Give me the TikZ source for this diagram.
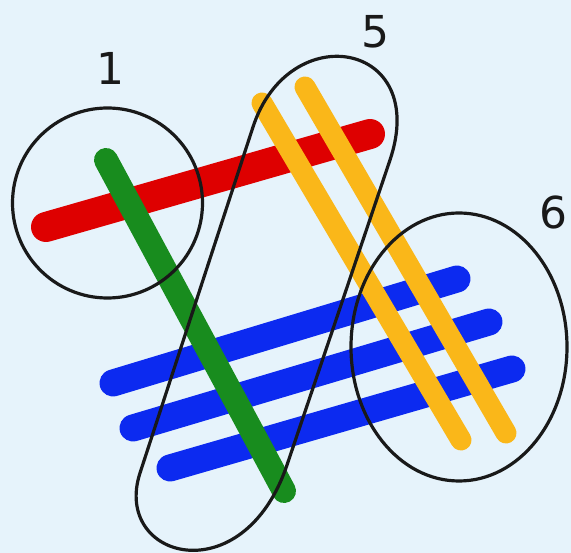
\documentclass[tikz,border=0pt]{standalone}
\usepackage{fontspec}
\newfontfamily\labelfont{DejaVu Sans}
\definecolor{bgc}{RGB}{230,243,251}
\definecolor{redc}{RGB}{222,0,0}
\definecolor{greenc}{RGB}{24,140,30}
\definecolor{bluec}{RGB}{12,42,240}
\definecolor{yellowc}{RGB}{250,183,25}
\begin{document}
\begin{tikzpicture}[x=1pt,y=-1pt,
  brush/.style={line cap=round,line join=round,line width=#1},
  ring/.style={draw=black!90,line width=3.2pt},
  lbl/.style={font=\labelfont\fontsize{44}{44}\selectfont,text=black!90,inner sep=0pt}]
\fill[bgc] (0,0) rectangle (571,553);
\useasboundingbox (0,0) rectangle (571,553);
% red
\coordinate (r1) at (46,227); \coordinate (r2) at (370,134);
\draw[brush=30pt,redc] (r1) -- (r2);
% blue
\coordinate (b1a) at (113,383); \coordinate (b1b) at (457,279);
\coordinate (b2a) at (133,428); \coordinate (b2b) at (489,322);
\coordinate (b3a) at (170,468); \coordinate (b3b) at (512,369);
\draw[brush=27pt,bluec] (b1a) -- (b1b);
\draw[brush=27pt,bluec] (b2a) -- (b2b);
\draw[brush=27pt,bluec] (b3a) -- (b3b);
% green
\coordinate (g1) at (106,160); \coordinate (g2) at (284,491);
\draw[brush=24pt,greenc] (g1) -- (g2);
% yellow
\coordinate (y1a) at (262,103); \coordinate (y1b) at (461,440);
\coordinate (y2a) at (305,87); \coordinate (y2b) at (506,433);
\draw[brush=21pt,yellowc] (y1a) -- (y1b);
\draw[brush=21pt,yellowc] (y2a) -- (y2b);
% circle 1
\draw[ring] (107.5,203) circle[radius=95];
% ellipse 6
\draw[ring] (459,347) ellipse[x radius=108,y radius=134];
% loop 5
\draw[ring] (253,127) .. controls (289,17) and (430,41) .. (390,160)
  -- (287,465) .. controls (243,595) and (112,559) .. (140,473) -- cycle;
% labels
\node[lbl] (n1) at (110,68) {1};
\node[lbl] (n5) at (375,32) {5};
\node[lbl] (n6) at (553,212) {6};
\end{tikzpicture}
\end{document}
